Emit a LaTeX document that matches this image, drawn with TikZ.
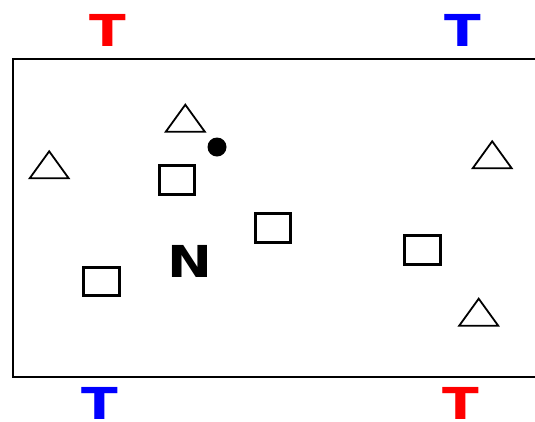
\documentclass[tikz,border=0pt]{standalone}
\usepackage{fontspec}
\newfontfamily\letterfont{DejaVu Sans}
\definecolor{tred}{RGB}{255,0,0}
\definecolor{tblue}{RGB}{0,0,255}
\begin{document}
\begin{tikzpicture}[x=1pt,y=-1pt,
  letter/.style={inner sep=0pt,outer sep=0pt,font=\letterfont\bfseries\fontsize{44}{44}\selectfont},
  boxmark/.style={draw,line width=3pt,minimum width=35.5pt,minimum height=28.5pt,inner sep=0pt},
  tri/.pic={\draw[line width=1.8pt] (-19.5,0) -- (19.5,0) -- (0,-27) -- cycle;}
]
\useasboundingbox (0,0) rectangle (535,421);
% field border (open on the right)
\coordinate (tr) at (536,58.5);
\coordinate (tl) at (13,58.5);
\coordinate (bl) at (13,377);
\coordinate (br) at (536,377);
\draw[line width=2pt] (tr) -- (tl) -- (bl) -- (br);
% letters
\node[letter,text=tred]  (t1) at (108,30)  {\scalebox{1.22}[1]{T}};
\node[letter,text=tblue] (t2) at (463,30)  {\scalebox{1.22}[1]{T}};
\node[letter,text=tblue] (t3) at (100,403) {\scalebox{1.22}[1]{T}};
\node[letter,text=tred]  (t4) at (460.5,403) {\scalebox{1.22}[1]{T}};
\node[letter] (n) at (190.3,261) {\scalebox{1.22}[1]{N}};
% squares
\node[boxmark] (s1) at (176.9,180) {};
\node[boxmark] (s2) at (273.2,228.2) {};
\node[boxmark] (s3) at (422.7,250) {};
\node[boxmark] (s4) at (101.5,281.7) {};
% triangles
\pic (a1) at (185.3,131.7) {tri};
\pic (a2) at (49.2,178.3) {tri};
\pic (a3) at (492.2,168.3) {tri};
\pic (a4) at (478.7,325.7) {tri};
% dot
\node[circle,fill=black,minimum size=19pt,inner sep=0pt] (dot) at (217,147) {};
\end{tikzpicture}
\end{document}
